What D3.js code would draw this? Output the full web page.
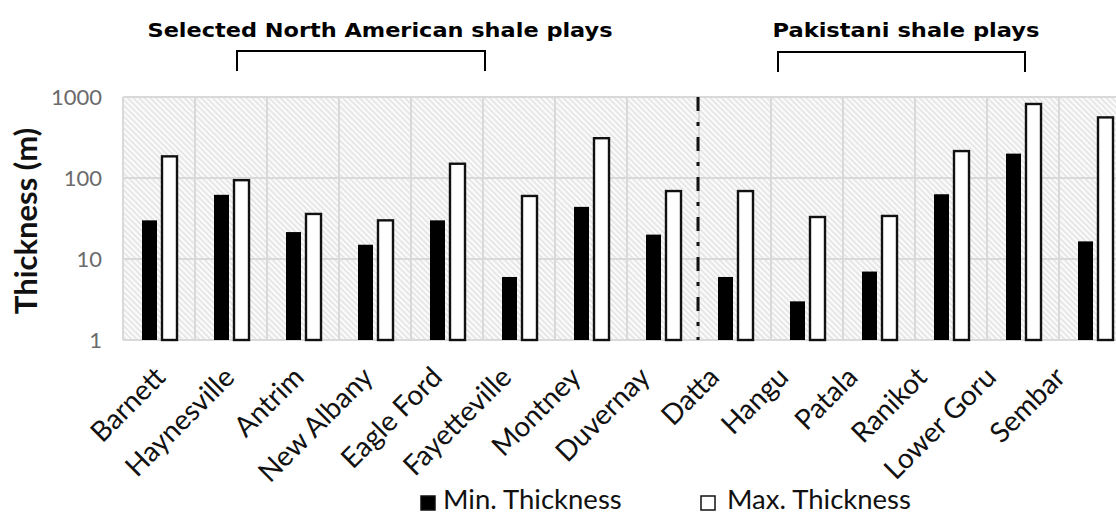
<!DOCTYPE html>
<html><head><meta charset="utf-8">
<script src="https://cdn.jsdelivr.net/npm/d3@7"></script>
<style>body{margin:0;background:#fff;overflow:hidden}</style>
</head><body>
<svg id="chart" width="1116" height="515"></svg>
<script>
// ---- data ----
const categories = ["Barnett","Haynesville","Antrim","New Albany","Eagle Ford","Fayetteville","Montney","Duvernay","Datta","Hangu","Patala","Ranikot","Lower Goru","Sembar"];
const minThickness = [30, 62, 21.5, 15, 30, 6, 44, 20, 6, 3, 7, 63, 200, 16.5];
const maxThickness = [185, 94, 36, 30, 150, 60, 310, 69, 69, 33, 34, 215, 820, 560];
const yTicks = [1, 10, 100, 1000];
const seriesNames = ["Min. Thickness", "Max. Thickness"];
const groupTitles = ["Selected North American shale plays", "Pakistani shale plays"];
const dividerAfter = "Duvernay";

// ---- layout ----
const svg = d3.select("#chart");
const plot = {left: 123, top: 97, bottom: 340, step: 72};
const x = d3.scaleBand().domain(categories).range([plot.left, plot.left + plot.step * categories.length]).padding(0);
const xInner = d3.scaleBand().domain(["min","max"]).range([19, 54]).paddingInner(0.25);
const y = d3.scaleLog().domain([1, 1000]).range([plot.bottom, plot.top]);
const xLabel = d3.scalePoint().domain(categories).range([167, 1067]);

const defs = svg.append("defs");
const pat = defs.append("pattern").attr("id","hatch").attr("patternUnits","userSpaceOnUse")
  .attr("width",4).attr("height",4).attr("patternTransform","rotate(-45)");
pat.append("rect").attr("width",4).attr("height",4).attr("fill","#fbfbfb");
pat.append("line").attr("x1",1).attr("x2",1).attr("y1",0).attr("y2",4).attr("stroke","#e3e3e3").attr("stroke-width",1.6);

const x0 = x.range()[0], x1 = x.range()[1];
svg.append("rect").attr("x",x0).attr("y",plot.top).attr("width",x1-x0).attr("height",plot.bottom-plot.top).attr("fill","url(#hatch)");

// gridlines
svg.append("g").selectAll("line").data(yTicks).join("line")
  .attr("x1",x0).attr("x2",x1).attr("y1",d=>y(d)).attr("y2",d=>y(d))
  .attr("stroke","#d9d9d9").attr("stroke-width",2);
svg.append("g").selectAll("line").data(categories).join("line")
  .attr("x1",d=>x(d)).attr("x2",d=>x(d)).attr("y1",plot.top).attr("y2",plot.bottom)
  .attr("stroke","#d9d9d9").attr("stroke-width",2);

// y axis labels
const yAxis = d3.axisLeft(y).tickValues(yTicks).tickFormat(d3.format("d")).tickSize(0).tickPadding(21);
const gy = svg.append("g").attr("transform",`translate(${x0},0)`).call(yAxis);
gy.select(".domain").remove();
gy.selectAll("text").attr("font-family","Lato, 'Open Sans', sans-serif").attr("font-size",22).attr("fill","#6b6b6b");

// bars
const g = svg.append("g");
g.selectAll("rect.min").data(categories).join("rect").attr("class","min")
  .attr("x",d=>x(d)+xInner("min")).attr("width",xInner.bandwidth())
  .attr("y",(d,i)=>y(minThickness[i])).attr("height",(d,i)=>y(1)-y(minThickness[i]))
  .attr("fill","#000");
g.selectAll("rect.max").data(categories).join("rect").attr("class","max")
  .attr("x",d=>x(d)+xInner("max")).attr("width",xInner.bandwidth())
  .attr("y",(d,i)=>y(maxThickness[i])).attr("height",(d,i)=>y(1)-y(maxThickness[i]))
  .attr("fill","#fff").attr("stroke","#111").attr("stroke-width",2.4);

// divider
const dx = x(dividerAfter) + x.bandwidth() - 1;
svg.append("line").attr("x1",dx).attr("x2",dx).attr("y1",plot.top).attr("y2",plot.bottom)
  .attr("stroke","#111").attr("stroke-width",3).attr("stroke-dasharray","14,11,4,11");

// x labels
svg.append("g").selectAll("text").data(categories).join("text")
  .attr("transform",d=>`translate(${xLabel(d)},379) rotate(-45)`)
  .attr("text-anchor","end").attr("font-family","Lato, 'Open Sans', sans-serif").attr("font-size",28).attr("fill","#111")
  .text(d=>d);

// y title
svg.append("text").attr("transform","translate(37,221) rotate(-90)").attr("text-anchor","middle")
  .attr("font-family","Lato, 'Open Sans', sans-serif").attr("font-weight","bold").attr("font-size",31).attr("fill","#111")
  .text("Thickness (m)");

// group titles and brackets
const titles = [
  {text: groupTitles[0], cx: 380, w: 465, bx0: 237, bx1: 485, by: 51},
  {text: groupTitles[1], cx: 906, w: 267, bx0: 778, bx1: 1025, by: 52}
];
titles.forEach(t=>{
  svg.append("text").attr("x",t.cx).attr("y",37).attr("text-anchor","middle")
    .attr("font-family","'DejaVu Sans', Verdana, sans-serif").attr("font-weight","bold").attr("font-size",20)
    .attr("textLength",t.w).attr("lengthAdjust","spacingAndGlyphs").attr("fill","#000").text(t.text);
  svg.append("path").attr("d",`M${t.bx0},${t.by+20}V${t.by}H${t.bx1}V${t.by+20}`)
    .attr("fill","none").attr("stroke","#000").attr("stroke-width",2);
});

// legend
const legend = [
  {name: seriesNames[0], sx: 420, tx: 443, fill: "#000"},
  {name: seriesNames[1], sx: 700, tx: 727, fill: "#fff"}
];
legend.forEach(l=>{
  svg.append("rect").attr("x",l.sx+1).attr("y",496).attr("width",14).attr("height",14)
    .attr("fill",l.fill).attr("stroke","#111").attr("stroke-width",1.5);
  svg.append("text").attr("x",l.tx).attr("y",509).attr("font-family","Lato, 'Open Sans', sans-serif")
    .attr("font-size",27.5).attr("fill","#111").text(l.name);
});
</script>
</body></html>
